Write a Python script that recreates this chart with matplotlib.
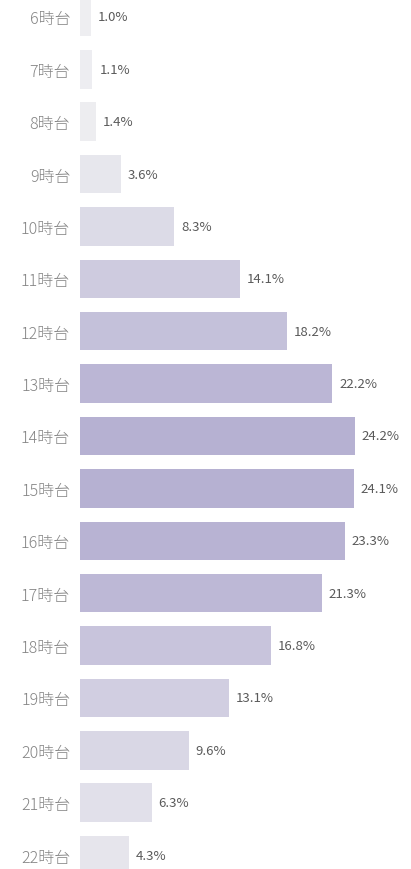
import matplotlib
matplotlib.use("Agg")
import matplotlib.pyplot as plt
from matplotlib.colors import LinearSegmentedColormap

plt.rcParams['font.family'] = ['Noto Sans CJK JP', 'DejaVu Sans']

hours = ["6時台", "7時台", "8時台", "9時台", "10時台", "11時台", "12時台", "13時台",
         "14時台", "15時台", "16時台", "17時台", "18時台", "19時台", "20時台",
         "21時台", "22時台"]
shares = [1.0, 1.1, 1.4, 3.6, 8.3, 14.1, 18.2, 22.2,
          24.2, 24.1, 23.3, 21.3, 16.8, 13.1, 9.6, 6.3, 4.3]

# pale gray -> muted purple, scaled by value
cmap = LinearSegmentedColormap.from_list("shade", ["#f0f0f2", "#b6b1d2"])
vmax = max(shares)

fig = plt.figure(figsize=(4.11, 8.70), dpi=100)
ax = fig.add_axes([80 / 411, 0, 331 / 411, 1])

pos = list(range(len(hours)))
colors = [cmap(v / vmax) for v in shares]
ax.barh(pos, shares, height=0.735, color=colors)

for y, v in zip(pos, shares):
    ax.text(v + 0.6, y, f"{v:.1f}%", va="center", ha="left",
            fontsize=9.5, color="#5a5a5a")

ax.set_yticks(pos)
ax.set_yticklabels(hours, fontsize=11.5, color="#858585", fontweight="light")
ax.tick_params(axis="y", length=0, pad=7)
ax.set_xticks([])
ax.set_xlim(0, 331 / 11.36)
ax.set_ylim(16 + 14 / 52.4, -18 / 52.4)
for s in ax.spines.values():
    s.set_visible(False)

fig.savefig("out.png", dpi=100)
